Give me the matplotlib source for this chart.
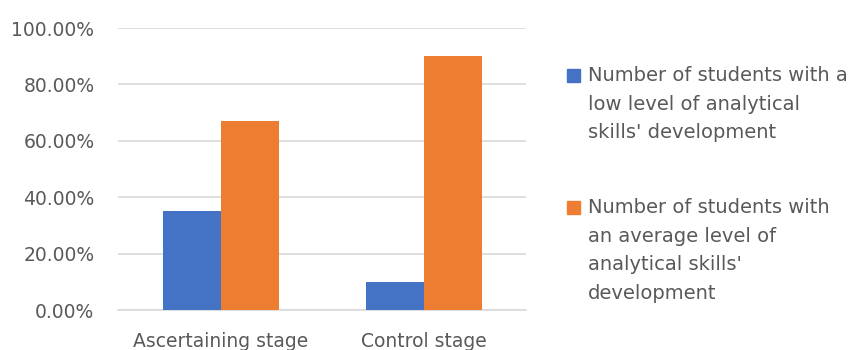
import matplotlib.pyplot as plt
from matplotlib.patches import Rectangle
from matplotlib.ticker import PercentFormatter
import numpy as np

# data
stages = ['Ascertaining stage', 'Control stage']
low_level = [0.35, 0.10]
average_level = [0.67, 0.90]
series_labels = [
    "Number of students with a\nlow level of analytical\nskills' development",
    "Number of students with\nan average level of\nanalytical skills'\ndevelopment",
]
colors = ['#4472C4', '#ED7D31']
text_col = '#595959'
grid_col = '#d9d9d9'

plt.rcParams['font.family'] = 'DejaVu Sans'

fig = plt.figure(figsize=(8.51, 3.5), dpi=100)
ax = fig.add_axes([118 / 851, 1 - 310 / 350, (526 - 118) / 851, (310 - 28) / 350])

x = np.arange(len(stages))
w = 0.284
ax.bar(x - w / 2, low_level, w, color=colors[0], zorder=3)
ax.bar(x + w / 2, average_level, w, color=colors[1], zorder=3)

ax.set_xlim(-0.505, 1.5)
ax.set_ylim(0, 1.0)
ax.set_yticks(np.arange(0, 1.01, 0.2))
ax.yaxis.set_major_formatter(PercentFormatter(1.0, decimals=2))
ax.set_xticks(x)
ax.set_xticklabels(stages)

ax.grid(axis='y', color=grid_col, linewidth=1.2, zorder=0)
for s in ['top', 'right', 'left']:
    ax.spines[s].set_visible(False)
ax.spines['bottom'].set_color(grid_col)
ax.spines['bottom'].set_linewidth(1.2)
ax.tick_params(length=0, labelsize=13.5, labelcolor=text_col)
ax.tick_params(axis='y', pad=17)
ax.tick_params(axis='x', pad=16)

# legend, drawn by hand so the square sits on the first line
leg_tops = [75, 207]
for lab, col, yc in zip(series_labels, colors, leg_tops):
    fig.patches.append(Rectangle((567 / 851, 1 - (yc + 6.5) / 350), 13 / 851, 13 / 350,
                                 transform=fig.transFigure, color=col))
    fig.text(588 / 851, 1 - (yc - 9) / 350, lab, fontsize=14, color=text_col,
             va='top', ha='left', linespacing=1.64)

fig.savefig('out.png', dpi=100)
